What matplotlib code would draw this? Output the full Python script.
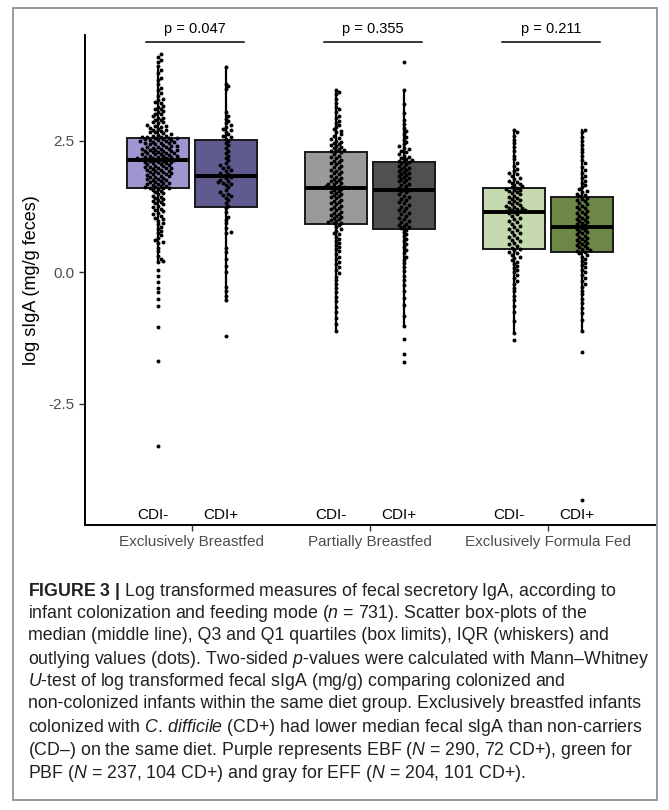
import matplotlib
matplotlib.use("Agg")
import matplotlib.pyplot as plt
from matplotlib.patches import Rectangle
import numpy as np

plt.rcParams['font.family'] = ['Liberation Sans', 'DejaVu Sans']
plt.rcParams['mathtext.fontset'] = 'custom'
plt.rcParams['mathtext.rm'] = 'Liberation Sans'
plt.rcParams['mathtext.it'] = 'Liberation Sans:italic'
plt.rcParams['mathtext.bf'] = 'Liberation Sans:bold'

# ---- data ----
groups = ['Exclusively Breastfed', 'Partially Breastfed', 'Exclusively Formula Fed']
status = ['CDI-', 'CDI+']
p_values = ['p = 0.047', 'p = 0.355', 'p = 0.211']

# box stats per group: [CDI-, CDI+]
q1 = [[1.60, 1.24], [0.92, 0.83], [0.44, 0.38]]
med = [[2.14, 1.83], [1.60, 1.56], [1.15, 0.87]]
q3 = [[2.55, 2.52], [2.29, 2.10], [1.60, 1.44]]
whis_lo = [[0.20, -0.54], [-1.12, -1.02], [-1.15, -1.12]]
whis_hi = [[3.92, 3.90], [3.46, 3.46], [2.70, 2.71]]

ebf_neg = [4.14, 4.09, 4.04, 3.99, 3.92, 3.85, 3.79, 3.70, 3.66, 3.58, 3.51, 3.47, 3.40, 3.35, 3.30,
           3.27, 3.23, 3.21, 3.17, 3.15, 3.11, 3.10, 3.06, 3.05, 3.01, 3.00, 2.97, 2.94, 2.93, 2.90,
           2.89, 2.86, 2.85, 2.83, 2.80, 2.79, 2.78, 2.76, 2.74, 2.72, 2.71, 2.70, 2.68, 2.66, 2.66,
           2.64, 2.62, 2.61, 2.60, 2.59, 2.58, 2.58, 2.57, 2.56, 2.55,
           2.55, 2.54, 2.53, 2.52, 2.52, 2.51, 2.49, 2.49, 2.48, 2.47, 2.46, 2.46, 2.45, 2.43, 2.43,
           2.42, 2.41, 2.40, 2.39, 2.38, 2.38, 2.37, 2.35, 2.35, 2.34, 2.33, 2.33, 2.32, 2.31, 2.30,
           2.30, 2.29, 2.28, 2.27, 2.26, 2.26, 2.25, 2.24, 2.24, 2.23, 2.22, 2.21, 2.21, 2.20, 2.19,
           2.19, 2.18, 2.17, 2.17, 2.16, 2.16, 2.15, 2.15, 2.14, 2.14,
           2.13, 2.12, 2.11, 2.10, 2.10, 2.09, 2.08, 2.07, 2.06, 2.05, 2.04, 2.03, 2.02, 2.01, 2.00,
           1.99, 1.98, 1.98, 1.96, 1.95, 1.94, 1.93, 1.92, 1.91, 1.90, 1.89, 1.88, 1.87, 1.86, 1.85,
           1.84, 1.83, 1.82, 1.81, 1.80, 1.78, 1.77, 1.76, 1.75, 1.74, 1.72, 1.71, 1.70, 1.69, 1.68,
           1.67, 1.66, 1.65, 1.64, 1.63, 1.62, 1.61, 1.61, 1.60,
           1.58, 1.56, 1.54, 1.52, 1.50, 1.48, 1.46, 1.44, 1.42, 1.40, 1.38, 1.36, 1.33, 1.31, 1.29,
           1.26, 1.24, 1.21, 1.18, 1.16, 1.13, 1.10, 1.07, 1.04, 1.01, 0.98, 0.94, 0.91, 0.87, 0.83,
           0.79, 0.75, 0.71, 0.66, 0.61, 0.58, 0.55, 0.47, 0.40, 0.32, 0.25, 0.21, 0.19, 0.04, -0.06,
           -0.19, -0.29, -0.38, -0.50, -0.63, -1.04, -1.69, -3.30]
ebf_pos = [3.90, 3.58, 3.54, 3.48, 3.05, 2.98, 2.92, 2.88, 2.84, 2.80, 2.77, 2.73, 2.70, 2.67, 2.63,
           2.60, 2.57, 2.54, 2.50, 2.46, 2.42, 2.36, 2.31, 2.27, 2.22, 2.18, 2.13, 2.08, 2.04, 2.01,
           1.98, 1.95, 1.92, 1.89, 1.86, 1.84, 1.82, 1.79, 1.76, 1.73, 1.71, 1.70, 1.68, 1.66, 1.62,
           1.57, 1.52, 1.49, 1.47, 1.45, 1.42, 1.37, 1.31, 1.26, 1.22, 1.14, 1.06, 1.00, 0.93, 0.84,
           0.77, 0.74, 0.47, 0.39, 0.25, 0.12, 0.00, -0.27, -0.35, -0.45, -0.52, -1.21]
pbf_neg = [3.46, 3.42, 3.38, 3.30, 3.22, 3.15, 3.10, 3.04, 2.98, 2.93, 2.88, 2.84, 2.80, 2.76, 2.72,
           2.69, 2.66, 2.62, 2.59, 2.56, 2.53, 2.50, 2.48, 2.46, 2.44, 2.42, 2.40, 2.38, 2.36, 2.34,
           2.33, 2.31, 2.30, 2.28, 2.25, 2.22, 2.20, 2.17, 2.14, 2.12, 2.10, 2.07, 2.05, 2.02, 2.00,
           1.98, 1.95, 1.93, 1.91, 1.88, 1.86, 1.84, 1.82, 1.80, 1.78, 1.76, 1.74, 1.72, 1.70, 1.68,
           1.67, 1.65, 1.64, 1.63, 1.62, 1.61, 1.59, 1.57, 1.55, 1.53, 1.51, 1.49, 1.47, 1.45, 1.43,
           1.41, 1.38, 1.36, 1.34, 1.31, 1.29, 1.27, 1.25, 1.22, 1.20, 1.18, 1.15, 1.13, 1.11, 1.09,
           1.07, 1.05, 1.03, 1.01, 0.99, 0.97, 0.95, 0.94, 0.93, 0.90, 0.86, 0.82, 0.79, 0.75, 0.72,
           0.68, 0.64, 0.60, 0.56, 0.52, 0.48, 0.44, 0.40, 0.35, 0.30, 0.25, 0.20, 0.15, 0.10, 0.04,
           -0.02, -0.08, -0.15, -0.22, -0.30, -0.38, -0.46, -0.55, -0.65, -0.75, -0.86, -0.98, -1.12]
pbf_pos = [4.00, 3.46, 3.20, 3.02, 2.90, 2.82, 2.75, 2.68, 2.62, 2.57, 2.52, 2.48, 2.44, 2.40, 2.37,
           2.34, 2.31, 2.28, 2.25, 2.22, 2.20, 2.18, 2.16, 2.14, 2.12, 2.11, 2.09, 2.07, 2.05, 2.03,
           2.01, 1.99, 1.97, 1.95, 1.93, 1.91, 1.89, 1.87, 1.85, 1.83, 1.81, 1.79, 1.77, 1.75, 1.73,
           1.71, 1.68, 1.66, 1.64, 1.61, 1.59, 1.57, 1.55, 1.52, 1.49, 1.46, 1.43, 1.40, 1.37, 1.34,
           1.31, 1.28, 1.25, 1.22, 1.19, 1.16, 1.13, 1.10, 1.07, 1.04, 1.01, 0.98, 0.95, 0.92, 0.90,
           0.88, 0.86, 0.84, 0.81, 0.77, 0.73, 0.69, 0.64, 0.59, 0.54, 0.48, 0.42, 0.36, 0.30, 0.24,
           0.17, 0.10, 0.02, -0.06, -0.14, -0.24, -0.36, -0.48, -0.62, -0.82, -1.02, -1.27, -1.56, -1.71]
eff_neg = [2.70, 2.66, 2.60, 2.52, 2.45, 2.38, 2.30, 2.22, 2.15, 2.08, 2.02, 1.97, 1.93, 1.89, 1.86,
           1.83, 1.80, 1.77, 1.74, 1.72, 1.70, 1.68, 1.66, 1.64, 1.62, 1.61, 1.59, 1.57, 1.56, 1.54,
           1.52, 1.50, 1.48, 1.46, 1.44, 1.42, 1.40, 1.38, 1.36, 1.34, 1.32, 1.30, 1.28, 1.26, 1.25,
           1.23, 1.22, 1.20, 1.19, 1.18, 1.17, 1.16, 1.14, 1.12, 1.10, 1.07, 1.04, 1.01, 0.98, 0.95,
           0.92, 0.89, 0.86, 0.83, 0.80, 0.77, 0.74, 0.71, 0.68, 0.65, 0.62, 0.59, 0.56, 0.53, 0.50,
           0.47, 0.45, 0.42, 0.39, 0.36, 0.33, 0.30, 0.27, 0.23, 0.20, 0.16, 0.12, 0.08, 0.04, 0.00,
           -0.05, -0.10, -0.16, -0.22, -0.29, -0.36, -0.44, -0.53, -0.63, -0.76, -0.92, -1.15, -1.29]
eff_pos = [2.71, 2.66, 2.58, 2.50, 2.42, 2.35, 2.28, 2.21, 2.14, 2.07, 2.01, 1.95, 1.89, 1.84, 1.79,
           1.74, 1.70, 1.66, 1.62, 1.58, 1.55, 1.52, 1.49, 1.47, 1.45, 1.42, 1.40, 1.37, 1.35, 1.32,
           1.30, 1.27, 1.25, 1.22, 1.20, 1.17, 1.15, 1.13, 1.10, 1.08, 1.06, 1.04, 1.02, 1.00, 0.98,
           0.96, 0.94, 0.92, 0.90, 0.88, 0.86, 0.84, 0.82, 0.80, 0.78, 0.76, 0.74, 0.72, 0.70, 0.68,
           0.66, 0.64, 0.62, 0.60, 0.58, 0.56, 0.54, 0.52, 0.50, 0.48, 0.46, 0.44, 0.42, 0.40, 0.39,
           0.36, 0.33, 0.30, 0.26, 0.22, 0.18, 0.14, 0.10, 0.05, 0.00, -0.05, -0.10, -0.16, -0.22, -0.28,
           -0.35, -0.42, -0.50, -0.58, -0.67, -0.78, -0.90, -1.12, -1.52, -4.33]
points = [[ebf_neg, ebf_pos], [pbf_neg, pbf_pos], [eff_neg, eff_pos]]

colors = [['#9d96d0', '#5f5b8f'], ['#9b9999', '#505050'], ['#c7d9ae', '#6d8747']]

caption = [
    r"$\mathbf{FIGURE\ 3\ |}$ Log transformed measures of fecal secretory IgA, according to",
    r"infant colonization and feeding mode ($\mathit{n}$ = 731). Scatter box-plots of the",
    r"median (middle line), Q3 and Q1 quartiles (box limits), IQR (whiskers) and",
    r"outlying values (dots). Two-sided $\mathit{p}$-values were calculated with Mann–Whitney",
    r"$\mathit{U}$-test of log transformed fecal sIgA (mg/g) comparing colonized and",
    r"non-colonized infants within the same diet group. Exclusively breastfed infants",
    r"colonized with $\mathit{C.}\,\mathit{difficile}$ (CD+) had lower median fecal sIgA than non-carriers",
    r"(CD–) on the same diet. Purple represents EBF ($\mathit{N}$ = 290, 72 CD+), green for",
    r"PBF ($\mathit{N}$ = 237, 104 CD+) and gray for EFF ($\mathit{N}$ = 204, 101 CD+).",
]

# ---- layout ----
W, H = 669, 810
fig = plt.figure(figsize=(W / 100, H / 100), dpi=100)
ax_l, ax_r, ax_t, ax_b = 85, 655, 35, 525
ax = fig.add_axes([ax_l / W, 1 - ax_b / H, (ax_r - ax_l) / W, (ax_b - ax_t) / H])
xlim = (0.4, 3.6)
ylim = (-4.8, 4.51)
ax.set_xlim(*xlim)
ax.set_ylim(*ylim)
px_x = (ax_r - ax_l) / (xlim[1] - xlim[0])
px_y = (ax_b - ax_t) / (ylim[1] - ylim[0])

dodge = 0.19
bw = 0.35


def swarm(vals, d=3.3):
    ys = np.sort(np.asarray(vals, float)) * px_y
    placed, xs = [], []
    for y in ys:
        k = 0
        while True:
            cands = [0.0] if k == 0 else [k * d * 0.8, -k * d * 0.8]
            hit = None
            for c in cands:
                if all((cx - c) ** 2 + (cy - y) ** 2 >= d * d
                       for cx, cy in placed if abs(cy - y) < d):
                    hit = c
                    break
            if hit is not None:
                break
            k += 1
        placed.append((hit, y))
        xs.append(hit)
    return np.array(xs) / px_x, ys / px_y


for gi in range(3):
    for si in range(2):
        pos = gi + 1 + (-dodge if si == 0 else dodge)
        st = dict(med=med[gi][si], q1=q1[gi][si], q3=q3[gi][si],
                  whislo=whis_lo[gi][si], whishi=whis_hi[gi][si], fliers=[])
        ax.bxp([st], positions=[pos], widths=bw, showcaps=False, patch_artist=True,
               boxprops=dict(facecolor=colors[gi][si], edgecolor='#1a1a1a', linewidth=1.4),
               whiskerprops=dict(color='black', linewidth=1.6),
               medianprops=dict(color='black', linewidth=2.8))
        dx, yy = swarm(points[gi][si])
        ax.scatter(pos + dx, yy, s=8, color='black', linewidths=0, zorder=5)
        ax.text(pos - 0.03, -4.61, status[si], ha='center', va='center', fontsize=11)
    ax.plot([gi + 1 - 0.26, gi + 1 + 0.29], [4.37, 4.37], color='black', lw=1.1, clip_on=False)
    ax.text(gi + 1 + 0.015, 4.63, p_values[gi], ha='center', va='center', fontsize=10.5)

ax.set_xticks([1, 2, 3])
ax.set_xticklabels(groups)
ax.set_yticks([-2.5, 0, 2.5])
ax.set_yticklabels(['-2.5', '0.0', '2.5'])
ax.tick_params(labelsize=11, labelcolor='#4d4d4d', color='#333333', length=4, width=1)
ax.set_ylabel('log sIgA (mg/g feces)', fontsize=13, labelpad=6)
for side in ['top', 'right']:
    ax.spines[side].set_visible(False)
for side in ['left', 'bottom']:
    ax.spines[side].set_linewidth(1.4)

# caption
for i, line in enumerate(caption):
    fig.text(28 / W, 1 - (588 + 22.75 * i) / H, line, ha='left', va='center_baseline',
             fontsize=12.8, color='#231f20')

# frame around figure
fig.patches.append(Rectangle((13 / W, 1 - 800 / H), (657 - 13) / W, (800 - 8) / H,
                             transform=fig.transFigure, fill=False, edgecolor='#8a8a8a', lw=1.2))

fig.savefig('out.png', dpi=100)
